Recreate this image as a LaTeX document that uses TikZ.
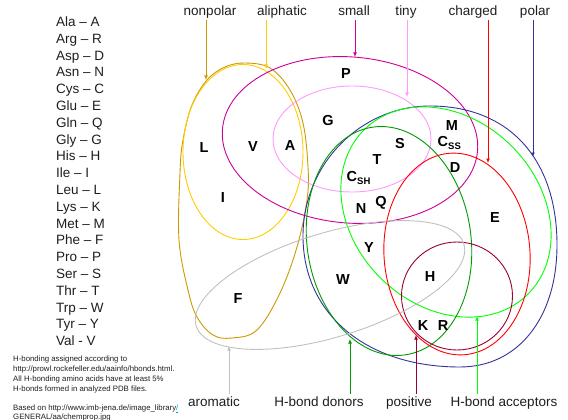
\documentclass[tikz,border=0pt]{standalone}
\usepackage{fontspec}
\setmainfont{Liberation Sans}
\usetikzlibrary{arrows.meta}
\definecolor{cnonpolar}{RGB}{204,153,0}
\definecolor{caliph}{RGB}{255,204,0}
\definecolor{csmall}{RGB}{204,0,153}
\definecolor{ctiny}{RGB}{255,153,255}
\definecolor{cpolar}{RGB}{51,51,153}
\definecolor{ccharged}{RGB}{255,0,0}
\definecolor{cacc}{RGB}{0,255,0}
\definecolor{cdon}{RGB}{0,153,0}
\definecolor{cpos}{RGB}{153,0,51}
\definecolor{carom}{RGB}{192,192,192}
\definecolor{ctext}{RGB}{30,30,30}
\definecolor{clink}{RGB}{0,153,204}
\begin{document}
\begin{tikzpicture}[x=1pt,y=-1pt,
  setline/.style={line width=0.9pt},
  lab/.style={font=\fontsize{13.5}{16}\selectfont, text=ctext, inner sep=0pt, anchor=base},
  aa/.style={font=\fontsize{14.5}{16}\selectfont\bfseries, inner sep=0pt, anchor=base},
  leg/.style={font=\fontsize{13.5}{16.8}\selectfont, anchor=base west, inner sep=0pt, text=ctext},
  note/.style={font=\fontsize{7.8}{10}\selectfont, anchor=base west, inner sep=0pt, text=ctext},
  pointer/.style={line width=0.9pt, -{Latex[length=4.5pt,width=4pt]}},
]
\useasboundingbox (0,0) rectangle (568,420);

% ---- sets ----
\draw[setline, cnonpolar] plot[smooth cycle, tension=0.6] coordinates {
  (245,63) (270,68) (290,90) (303,123) (308,167) (307,200) (297,247) (280,293)
  (257,330) (232,338) (213,335) (197,317) (188,290) (179,240) (180,173) (183,140) (192,105) (207,80) (225,67)};
\draw[setline, caliph] (243,152) ellipse [x radius=60, y radius=87.5];
\draw[setline, csmall, rotate around={-5:(350,140)}] (350,140) ellipse [x radius=128, y radius=83];
\draw[setline, ctiny] (352,139) ellipse [x radius=79, y radius=53];
\draw[setline, cpolar] (430,106) .. controls (509,106) and (557,159) .. (557,245)
  .. controls (557,318) and (518,367) .. (460,367)
  .. controls (366,367) and (303,314) .. (303,236)
  .. controls (303,165) and (360,106) .. (430,106) -- cycle;
\draw[setline, cacc, rotate around={-45:(446,212)}] (446,212) ellipse [x radius=116, y radius=93];
\draw[setline, cdon, rotate around={8:(389,241)}] (389,241) ellipse [x radius=82, y radius=115];
\draw[setline, ccharged, rotate around={4:(457,254)}] (457,254) ellipse [x radius=73, y radius=101];
\draw[setline, cpos] (457,296) ellipse [x radius=55.5, y radius=54];
\draw[setline, carom, rotate around={17:(330,285)}] (330,285) ellipse [x radius=140, y radius=52];

% ---- amino acid letters ----
\node[aa] (P) at (346,78) {P};
\node[aa] (G) at (328,125) {G};
\node[aa] (L) at (204,152) {L};
\node[aa] (V) at (253,151) {V};
\node[aa] (A) at (290,150) {A};
\node[aa] (I) at (223,202) {I};
\node[aa] (M) at (452,131) {M};
\node[aa, anchor=base west] (Css) at (437.5,146.5) {C\raisebox{-3pt}{\fontsize{9.5}{10}\selectfont SS}};
\node[aa] (S) at (400,148) {S};
\node[aa] (T) at (377,164) {T};
\node[aa] (D) at (455,172) {D};
\node[aa, anchor=base west] (Csh) at (346.5,181.5) {C\raisebox{-3pt}{\fontsize{9.5}{10}\selectfont SH}};
\node[aa] (N) at (361,213) {N};
\node[aa] (Q) at (381,206) {Q};
\node[aa] (E) at (495,222) {E};
\node[aa] (Y) at (369,252) {Y};
\node[aa] (W) at (343,284) {W};
\node[aa] (H) at (430,281) {H};
\node[aa] (K) at (423,330) {K};
\node[aa] (R) at (443,330) {R};
\node[aa] (F) at (238,303) {F};

% ---- top labels and pointers ----
\node[lab] (lnonpolar) at (210,16) {nonpolar};
\node[lab] (laliph) at (282,16) {aliphatic};
\node[lab] (lsmall) at (354,16) {small};
\node[lab] (ltiny) at (406,16) {tiny};
\node[lab] (lcharged) at (473,16) {charged};
\node[lab] (lpolar) at (535,16) {polar};

\coordinate (tnonpolar) at (206,80);
\coordinate (taliph) at (266,69);
\coordinate (tsmall) at (355,57);
\coordinate (ttiny) at (407,97);
\coordinate (tcharged) at (488,163);
\coordinate (tpolar) at (533,157);
\coordinate (snonpolar) at (206,20);
\coordinate (saliph) at (266,20);
\coordinate (ssmall) at (355,20);
\coordinate (stiny) at (407,20);
\coordinate (scharged) at (488,20);
\coordinate (spolar) at (533,20);
\draw[pointer, cnonpolar] (snonpolar) -- (tnonpolar);
\draw[pointer, caliph] (saliph) -- (taliph);
\draw[pointer, csmall] (ssmall) -- (tsmall);
\draw[pointer, ctiny] (stiny) -- (ttiny);
\draw[pointer, ccharged] (scharged) -- (tcharged);
\draw[pointer, cpolar] (spolar) -- (tpolar);

% ---- bottom labels and pointers ----
\node[lab] (larom) at (214,406) {aromatic};
\node[lab] (ldon) at (319,406) {H-bond donors};
\node[lab] (lpos) at (409,406) {positive};
\node[lab] (lacc) at (504,406) {H-bond acceptors};

\coordinate (sarom) at (229,394);
\coordinate (sdon) at (350,394);
\coordinate (spos) at (416,394);
\coordinate (sacc) at (477,394);
\coordinate (tarom) at (229,346);
\coordinate (tdon) at (350,339);
\coordinate (tpos) at (416,335);
\coordinate (tacc) at (477,316);
\draw[pointer, carom] (sarom) -- (tarom);
\draw[pointer, cdon] (sdon) -- (tdon);
\draw[pointer, cpos] (spos) -- (tpos);
\draw[pointer, cacc] (sacc) -- (tacc);

% ---- legend ----
\foreach \t [count=\i from 0] in {Ala -- A, Arg -- R, Asp -- D, Asn -- N, Cys -- C, Glu -- E, Gln -- Q, Gly -- G, His -- H, Ile -- I, Leu -- L, Lys -- K, Met -- M, Phe -- F, Pro -- P, Ser -- S, Thr -- T, Trp -- W, Tyr -- Y, Val - V}
  \node[leg] (leg\i) at (56,26.5+\i*16.8) {\t};

% ---- notes ----
\node[note] (n1) at (13,361.5) {H-bonding assigned according to};
\node[note] (n2) at (13,371.5) {http://prowl.rockefeller.edu/aainfo/hbonds.html.};
\node[note] (n3) at (13,381.5) {All H-bonding amino acids have at least 5\%};
\node[note] (n4) at (13,391.5) {H-bonds formed in analyzed PDB files.};
\node[note] (n5) at (13,410.5) {Based on http://www.imb-jena.de/image\_library\textcolor{clink}{\underline{/}}};
\node[note] (n6) at (13,419) {GENERAL/aa/chemprop.jpg};
\end{tikzpicture}
\end{document}
